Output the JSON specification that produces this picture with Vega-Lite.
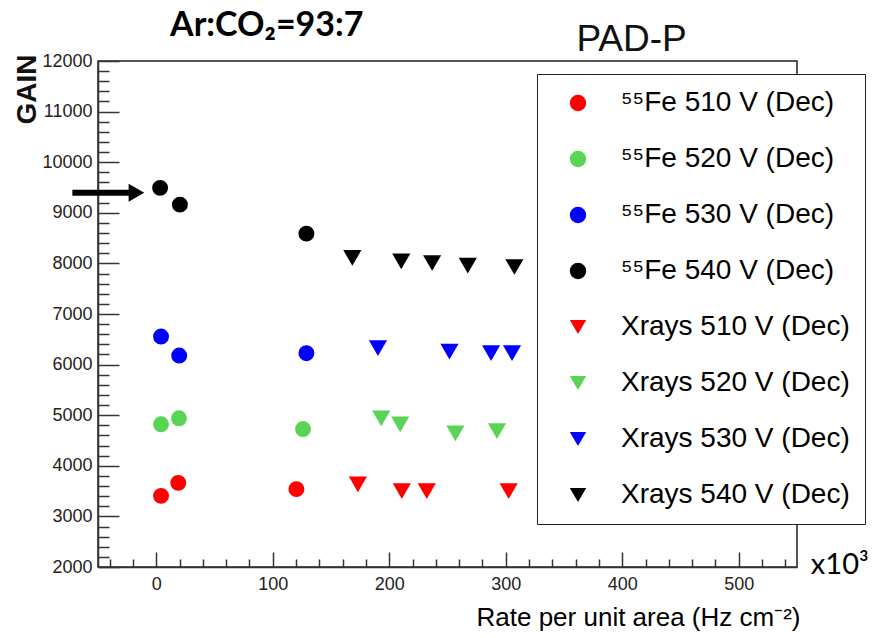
{
  "$schema": "https://vega.github.io/schema/vega-lite/v6.json",
  "width": 699,
  "height": 506,
  "autosize": {"type": "none"},
  "padding": {"left": 98, "top": 61, "right": 95, "bottom": 71},
  "background": "white",
  "config": {"view": {"stroke": "#222", "strokeWidth": 1.5}, "font": "Liberation Sans"},
  "encoding": {
    "x": {
      "field": "rate", "type": "quantitative",
      "scale": {"domain": [-50, 550], "nice": false, "zero": false},
      "axis": {
        "title": "Rate per unit area (Hz cm⁻²)",
        "values": [-40,-20,0,20,40,60,80,100,120,140,160,180,200,220,240,260,280,300,320,340,360,380,400,420,440,460,480,500,520,540],
        "labelExpr": "datum.value % 100 === 0 ? datum.label : ''",
        "labelOverlap": false, "labelFlush": false, "grid": false,
        "tickSize": {"condition": {"test": "datum.value % 100 === 0", "value": -15}, "value": -8},
        "domainColor": "#333", "domainWidth": 1.5, "tickColor": "#333", "tickWidth": 1.5,
        "labelFont": "Liberation Sans", "labelFontSize": 18, "labelColor": "#222", "labelPadding": 23,
        "titleFont": "Liberation Sans", "titleFontSize": 26, "titleFontWeight": "normal", "titleColor": "black",
        "titleAlign": "right", "titleAnchor": "end", "titleX": 702, "titleY": 58, "titleBaseline": "alphabetic"
      }
    },
    "y": {
      "field": "gain", "type": "quantitative",
      "scale": {"domain": [2000, 12000], "nice": false, "zero": false},
      "axis": {
        "title": "GAIN",
        "format": "d",
        "values": [2000,2200,2400,2600,2800,3000,3200,3400,3600,3800,4000,4200,4400,4600,4800,5000,5200,5400,5600,5800,6000,6200,6400,6600,6800,7000,7200,7400,7600,7800,8000,8200,8400,8600,8800,9000,9200,9400,9600,9800,10000,10200,10400,10600,10800,11000,11200,11400,11600,11800,12000],
        "labelExpr": "datum.value % 1000 === 0 ? datum.label : ''",
        "labelOverlap": false, "labelFlush": false, "grid": false,
        "tickSize": {"condition": {"test": "datum.value % 1000 === 0", "value": -21}, "value": -11},
        "domainColor": "#333", "domainWidth": 1.5, "tickColor": "#333", "tickWidth": 1.5,
        "labelFont": "Liberation Sans", "labelFontSize": 18, "labelColor": "#222", "labelPadding": 27,
        "titleFont": "Liberation Sans", "titleFontSize": 28, "titleFontWeight": "bold", "titleColor": "#111",
        "titleAngle": -90, "titleAlign": "right", "titleAnchor": "end", "titleX": -71, "titleY": -7, "titleBaseline": "middle"
      }
    }
  },
  "layer": [
    {
      "data": {"values": [
        {"rate": 4.1, "gain": 3406, "series": "⁵⁵Fe 510 V (Dec)"},
        {"rate": 18.9, "gain": 3663, "series": "⁵⁵Fe 510 V (Dec)"},
        {"rate": 120.3, "gain": 3539, "series": "⁵⁵Fe 510 V (Dec)"},
        {"rate": 4.1, "gain": 4820, "series": "⁵⁵Fe 520 V (Dec)"},
        {"rate": 19.5, "gain": 4939, "series": "⁵⁵Fe 520 V (Dec)"},
        {"rate": 126.0, "gain": 4727, "series": "⁵⁵Fe 520 V (Dec)"},
        {"rate": 4.1, "gain": 6554, "series": "⁵⁵Fe 530 V (Dec)"},
        {"rate": 19.7, "gain": 6178, "series": "⁵⁵Fe 530 V (Dec)"},
        {"rate": 128.9, "gain": 6226, "series": "⁵⁵Fe 530 V (Dec)"},
        {"rate": 3.3, "gain": 9493, "series": "⁵⁵Fe 540 V (Dec)"},
        {"rate": 20.3, "gain": 9162, "series": "⁵⁵Fe 540 V (Dec)"},
        {"rate": 128.9, "gain": 8588, "series": "⁵⁵Fe 540 V (Dec)"}
      ]},
      "mark": {"type": "point", "filled": true, "opacity": 1, "size": 254},
      "encoding": {
        "color": {"field": "series", "type": "nominal",
          "scale": {"domain": ["⁵⁵Fe 510 V (Dec)", "⁵⁵Fe 520 V (Dec)", "⁵⁵Fe 530 V (Dec)", "⁵⁵Fe 540 V (Dec)", "Xrays 510 V (Dec)", "Xrays 520 V (Dec)", "Xrays 530 V (Dec)", "Xrays 540 V (Dec)"],
                    "range": ["#ff0000", "#59d454", "#0000ff", "#000000", "#ff0000", "#59d454", "#0000ff", "#000000"]},
          "legend": {"title": null, "orient": "none", "legendX": 439, "legendY": 13, "fillColor": "white", "strokeColor": "#222", "padding": 15,
            "labelFont": "Liberation Sans", "labelFontSize": 28, "labelColor": "black", "labelLimit": 500, "rowPadding": 28,
            "symbolSize": 270, "symbolOffset": 12, "labelOffset": 29, "symbolStrokeWidth": 0, "symbolOpacity": 1}},
        "shape": {"field": "series", "type": "nominal",
          "scale": {"domain": ["⁵⁵Fe 510 V (Dec)", "⁵⁵Fe 520 V (Dec)", "⁵⁵Fe 530 V (Dec)", "⁵⁵Fe 540 V (Dec)", "Xrays 510 V (Dec)", "Xrays 520 V (Dec)", "Xrays 530 V (Dec)", "Xrays 540 V (Dec)"],
                    "range": ["circle", "circle", "circle", "circle", "triangle-down", "triangle-down", "triangle-down", "triangle-down"]},
          "legend": {"title": null, "orient": "none", "legendX": 439, "legendY": 13, "fillColor": "white", "strokeColor": "#222", "padding": 15,
            "labelFont": "Liberation Sans", "labelFontSize": 28, "labelColor": "black", "labelLimit": 500, "rowPadding": 28,
            "symbolSize": 270, "symbolOffset": 12, "labelOffset": 29, "symbolStrokeWidth": 0, "symbolOpacity": 1}}
      }
    },
    {
      "data": {"values": [
        {"rate": 173.1, "gain": 3632, "series": "Xrays 510 V (Dec)"},
        {"rate": 210.8, "gain": 3499, "series": "Xrays 510 V (Dec)"},
        {"rate": 232.2, "gain": 3499, "series": "Xrays 510 V (Dec)"},
        {"rate": 302.5, "gain": 3499, "series": "Xrays 510 V (Dec)"},
        {"rate": 193.1, "gain": 4939, "series": "Xrays 520 V (Dec)"},
        {"rate": 209.4, "gain": 4820, "series": "Xrays 520 V (Dec)"},
        {"rate": 256.8, "gain": 4641, "series": "Xrays 520 V (Dec)"},
        {"rate": 292.5, "gain": 4687, "series": "Xrays 520 V (Dec)"},
        {"rate": 190.3, "gain": 6325, "series": "Xrays 530 V (Dec)"},
        {"rate": 251.7, "gain": 6257, "series": "Xrays 530 V (Dec)"},
        {"rate": 287.4, "gain": 6226, "series": "Xrays 530 V (Dec)"},
        {"rate": 305.4, "gain": 6226, "series": "Xrays 530 V (Dec)"},
        {"rate": 168.3, "gain": 8107, "series": "Xrays 540 V (Dec)"},
        {"rate": 210.3, "gain": 8040, "series": "Xrays 540 V (Dec)"},
        {"rate": 236.8, "gain": 8008, "series": "Xrays 540 V (Dec)"},
        {"rate": 267.4, "gain": 7954, "series": "Xrays 540 V (Dec)"},
        {"rate": 307.4, "gain": 7929, "series": "Xrays 540 V (Dec)"}
      ]},
      "mark": {"type": "point", "filled": true, "opacity": 1, "size": 330},
      "encoding": {
        "color": {"field": "series", "type": "nominal"},
        "shape": {"field": "series", "type": "nominal"}
      }
    },
    {
      "data": {"values": [{"rate": -72, "rate2": -22, "gain": 9394}]},
      "mark": {"type": "rule", "color": "black", "strokeWidth": 6},
      "encoding": {"x2": {"field": "rate2"}}
    },
    {
      "data": {"values": [{"rate": -17, "gain": 9394}]},
      "mark": {"type": "point", "shape": "triangle-right", "filled": true, "color": "black", "opacity": 1, "size": 324}
    },
    {
      "data": {"values": [{"rate": 94.9, "gain": 12489, "t": "Ar:CO₂=93:7"}]},
      "mark": {"type": "text", "font": "Lato", "fontWeight": "bold", "fontSize": 34, "align": "center", "baseline": "alphabetic", "color": "black"},
      "encoding": {"text": {"field": "t"}}
    },
    {
      "data": {"values": [{"rate": 408, "gain": 12198, "t": "PAD-P"}]},
      "mark": {"type": "text", "font": "Liberation Sans", "fontSize": 37, "align": "center", "baseline": "alphabetic", "color": "#111"},
      "encoding": {"text": {"field": "t"}}
    },
    {
      "data": {"values": [{"rate": 561.9, "gain": 1869, "t": "x10³"}]},
      "mark": {"type": "text", "font": "Lato", "fontSize": 29, "align": "left", "baseline": "alphabetic", "color": "black"},
      "encoding": {"text": {"field": "t"}}
    }
  ]
}
